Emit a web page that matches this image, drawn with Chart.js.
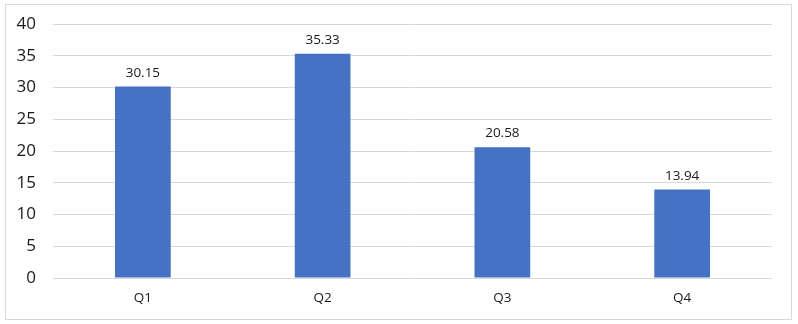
<!DOCTYPE html>
<html>
<head>
<meta charset="utf-8">
<script src="https://cdn.jsdelivr.net/npm/chart.js@4/dist/chart.umd.min.js"></script>
<style>
  html, body { margin: 0; padding: 0; background: #fff; }
  #wrap { width: 798px; height: 324px; }
</style>
</head>
<body>
<div id="wrap"><canvas id="grafica" width="798" height="324"></canvas></div>
<script>
// datos
const trimestres = ["Q1", "Q2", "Q3", "Q4"];
const valores = [30.15, 35.33, 20.58, 13.94];
const marcasY = [0, 5, 10, 15, 20, 25, 30, 35, 40];

const fuente = "'Open Sans', 'Noto Sans', sans-serif";
const colorTexto = '#1a1a1a';

// borde gris alrededor de todo el grafico
const borde = {
    id: 'borde',
    beforeDraw(chart) {
        const ctx = chart.ctx;
        ctx.save();
        ctx.fillStyle = '#fff';
        ctx.fillRect(0, 0, chart.width, chart.height);
        ctx.strokeStyle = '#d9d9d9';
        ctx.lineWidth = 1;
        ctx.strokeRect(5.5, 4.5, 786, 315);
        ctx.restore();
    }
};

// etiquetas encima de cada barra
const etiquetas = {
    id: 'etiquetas',
    afterDatasetsDraw(chart) {
        const ctx = chart.ctx;
        const meta = chart.getDatasetMeta(0);
        ctx.save();
        ctx.fillStyle = colorTexto;
        ctx.font = '13.5px ' + fuente;
        ctx.textAlign = 'center';
        ctx.textBaseline = 'bottom';
        meta.data.forEach(function (barra, i) {
            ctx.fillText(valores[i].toFixed(2), barra.x, barra.y - 7);
        });
        ctx.restore();
    }
};

const ctx = document.getElementById('grafica').getContext('2d');
const grafica = new Chart(ctx, {
    type: 'bar',
    data: {
        labels: trimestres,
        datasets: [{
            data: valores,
            backgroundColor: '#4472C4',
            barPercentage: 0.62,
            categoryPercentage: 0.5
        }]
    },
    options: {
        responsive: false,
        animation: false,
        layout: { padding: { left: 0, top: 24, right: 26, bottom: 0 } },
        plugins: {
            legend: { display: false },
            tooltip: { enabled: false }
        },
        scales: {
            x: {
                grid: { display: false, drawTicks: false },
                border: { display: false },
                ticks: { color: colorTexto, font: { family: fuente, size: 13.5 }, padding: 12 },
                afterFit(eje) { eje.height = 46; }
            },
            y: {
                min: 0,
                max: 40,
                afterBuildTicks(eje) { eje.ticks = marcasY.map(v => ({ value: v })); },
                grid: { color: '#d9d9d9', drawTicks: false },
                border: { display: false },
                ticks: { color: colorTexto, font: { family: fuente, size: 17 }, padding: 17 },
                afterFit(eje) {
                    eje.width = 53;
                    eje.paddingTop = 0;
                    eje.paddingBottom = 0;
                }
            }
        }
    },
    plugins: [borde, etiquetas]
});
</script>
</body>
</html>
